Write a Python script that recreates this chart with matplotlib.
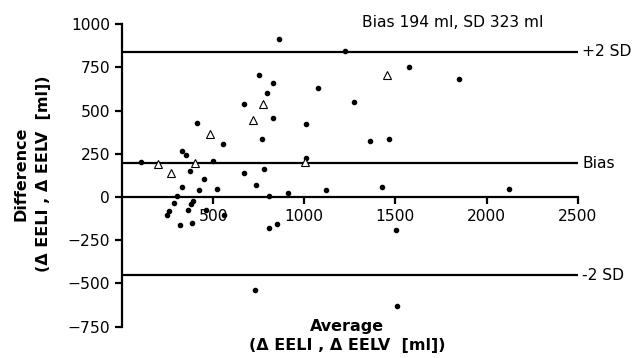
import matplotlib
matplotlib.use('Agg')
import matplotlib.pyplot as plt
import numpy as np

# the original text is wide (tracked Arial), DejaVu Sans is the closest in width
plt.rcParams['font.family'] = ['DejaVu Sans']

# Bland-Altman data
dot_avg = [102, 329, 352, 411, 554, 502, 374, 451, 327, 420, 522, 301, 283, 387, 381,
           259, 247, 360, 462, 561, 318, 385, 667, 749, 828, 798, 826, 767, 859, 670,
           778, 733, 804, 912, 809, 853, 1076, 1010, 1012, 1118, 1224, 1273, 1361, 1467,
           1429, 1504, 1577, 1851, 2122, 731, 1511]
dot_diff = [202, 265, 245, 425, 308, 208, 152, 106, 58, 39, 46, 6, -32, -25, -38,
            -83, -102, -77, -77, -106, -163, -148, 537, 704, 660, 600, 456, 337, 916, 141,
            160, 71, 6, 23, -182, -154, 633, 421, 227, 39, 846, 548, 323, 337,
            58, -188, 754, 683, 46, -538, -629]
tri_avg = [197, 270, 400, 482, 720, 771, 1003, 1454]
tri_diff = [193, 139, 198, 366, 443, 538, 202, 708]

bias = 194
sd = 323
limits = [bias + 2 * sd, bias, bias - 2 * sd]
limit_labels = ['+2 SD', 'Bias', '-2 SD']

fs = 11.2

fig = plt.figure(figsize=(6.33, 3.58), dpi=100)
ax = fig.add_axes([0.1927, 0.0874, 0.7200, 0.8455])

for y, lab in zip(limits, limit_labels):
    ax.plot([0, 2500], [y, y], color='black', lw=1.6, zorder=1)
    ax.text(2525, y, lab, fontsize=fs, va='center', ha='left')

ax.plot(dot_avg, dot_diff, 'o', color='black', ms=3, zorder=3)
ax.plot(tri_avg, tri_diff, '^', mfc='white', mec='black', mew=0.8, ms=6, zorder=3)

ax.set_xlim(0, 2500)
ax.set_ylim(-750, 1000)
ax.spines['top'].set_visible(False)
ax.spines['right'].set_visible(False)
ax.spines['bottom'].set_position(('data', 0))
ax.spines['left'].set_linewidth(1.6)
ax.spines['bottom'].set_linewidth(1.6)
ax.set_xticks([500, 1000, 1500, 2000, 2500])
ax.set_yticks([-750, -500, -250, 0, 250, 500, 750, 1000])
ax.tick_params(labelsize=fs, width=1.6, length=5, direction='out')

ax.text(1816, 1008, 'Bias 194 ml, SD 323 ml', fontsize=fs, ha='center', va='center')

fig.text(0.051, 0.514, 'Difference\n(\u0394 EELI , \u0394 EELV  [ml])', rotation=90,
         fontsize=11.5, fontweight='bold', ha='center', va='center', linespacing=1.65)
fig.text(0.548, 0.062, 'Average\n(\u0394 EELI , \u0394 EELV  [ml])',
         fontsize=11.5, fontweight='bold', ha='center', va='center', linespacing=1.3)

fig.savefig('out.png', dpi=100)
